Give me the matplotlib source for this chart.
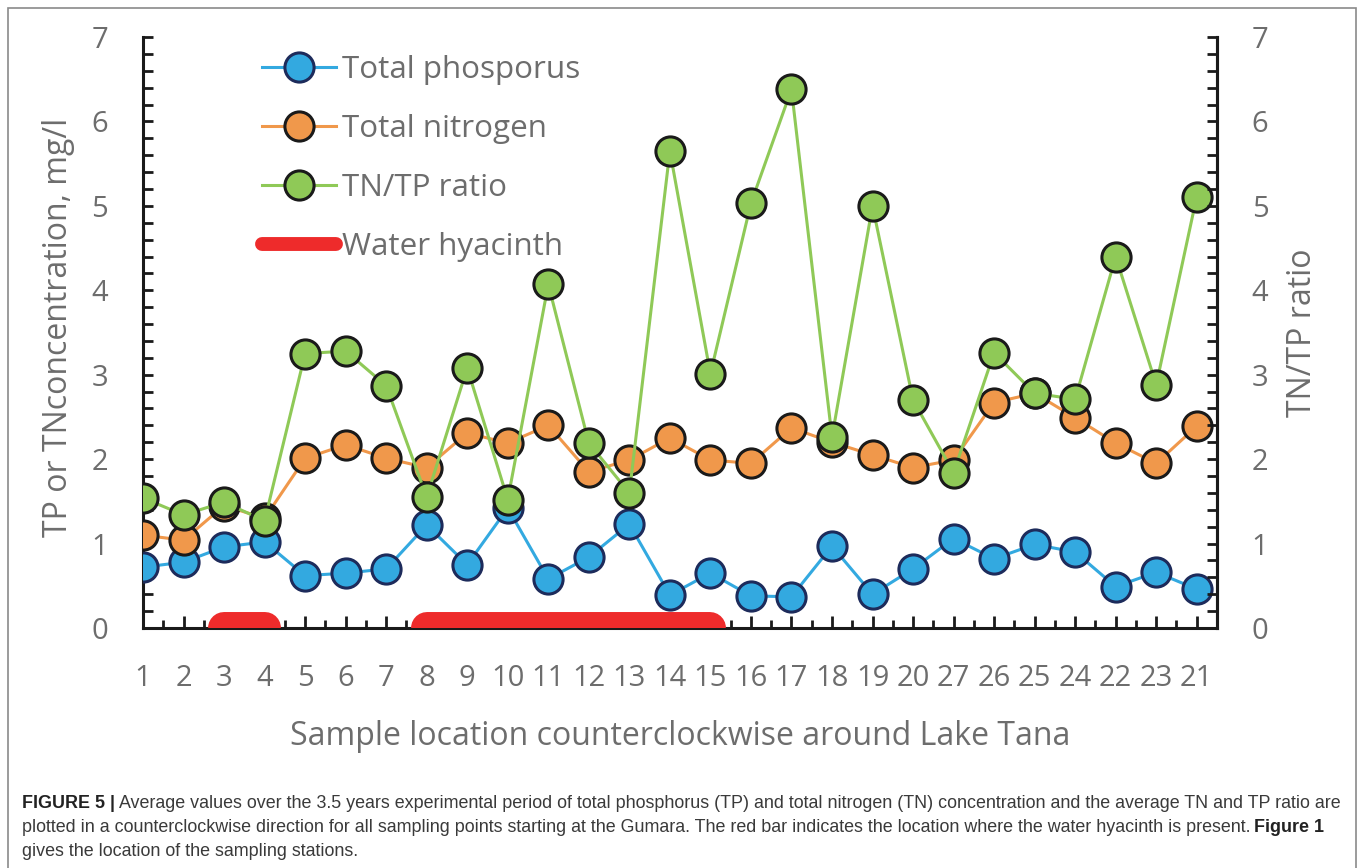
import matplotlib.pyplot as plt
from matplotlib.lines import Line2D
from matplotlib.patches import Rectangle
from matplotlib.ticker import MultipleLocator

# sample locations, counterclockwise around Lake Tana
stations = ["1", "2", "3", "4", "5", "6", "7", "8", "9", "10", "11", "12", "13", "14",
            "15", "16", "17", "18", "19", "20", "27", "26", "25", "24", "22", "23", "21"]

tp = [0.72, 0.78, 0.96, 1.02, 0.62, 0.65, 0.70, 1.22, 0.75, 1.42, 0.58, 0.84, 1.23, 0.39,
      0.65, 0.38, 0.37, 0.97, 0.40, 0.70, 1.06, 0.82, 0.99, 0.90, 0.49, 0.66, 0.46]

tn = [1.10, 1.04, 1.45, 1.30, 2.01, 2.17, 2.01, 1.90, 2.31, 2.19, 2.40, 1.85, 1.99, 2.25,
      1.99, 1.95, 2.37, 2.20, 2.05, 1.90, 1.99, 2.67, 2.78, 2.49, 2.19, 1.95, 2.39]

ratio = [1.54, 1.34, 1.49, 1.27, 3.25, 3.28, 2.87, 1.55, 3.08, 1.52, 4.07, 2.19, 1.60, 5.65,
         3.01, 5.03, 6.38, 2.26, 5.00, 2.70, 1.84, 3.26, 2.78, 2.71, 4.40, 2.88, 5.11]

# stretches of shore where water hyacinth is present (first, last station)
hyacinth = [("3", "4"), ("8", "15")]

TXT = "#6d6d6d"
INK = "#1a1a1a"
BLUE = "#33a9e0"
ORANGE = "#f0984b"
GREEN = "#8fc957"
RED = "#ee2b2b"

plt.rcParams["font.family"] = ["Open Sans", "DejaVu Sans"]

fig = plt.figure(figsize=(13.6, 8.68), dpi=100)
ax = fig.add_axes([0.10515, 0.2765, 0.78971, 0.68088])
ax2 = ax.twinx()

x = list(range(len(stations)))
mk = dict(marker="o", markersize=21, markeredgewidth=2.2, linewidth=2.2)

ax.plot(x, tp, color=BLUE, markerfacecolor=BLUE, markeredgecolor="#1d2b5b", zorder=3, **mk)
ax.plot(x, tn, color=ORANGE, markerfacecolor=ORANGE, markeredgecolor=INK, zorder=4, **mk)
ax.plot(x, ratio, color=GREEN, markerfacecolor=GREEN, markeredgecolor=INK, zorder=5, **mk)

for a, b in hyacinth:
    i0, i1 = stations.index(a), stations.index(b)
    ax2.plot([i0, i1], [0, 0], color=RED, linewidth=23, solid_capstyle="round",
             zorder=3, clip_on=True)

for a in (ax, ax2):
    a.set_xlim(0, 26.5)
    a.set_ylim(0, 7)
    a.yaxis.set_major_locator(MultipleLocator(1))
    a.yaxis.set_minor_locator(MultipleLocator(0.2))
    a.tick_params(axis="y", which="both", direction="in", length=7.5, width=2,
                  color=INK, labelsize=21, labelcolor=TXT, pad=25)
    for s in a.spines.values():
        s.set_linewidth(2.2)
        s.set_color(INK)

for s in ("top", "bottom", "left"):
    ax2.spines[s].set_visible(False)
ax.spines["top"].set_visible(False)

ax.set_xticks(x)
ax.set_xticklabels(stations)
ax.set_xticks([i + 0.5 for i in x[:-1]], minor=True)
ax.tick_params(axis="x", which="major", direction="in", length=8.5, width=2,
               color=INK, labelsize=21, labelcolor=TXT, pad=26)
ax.tick_params(axis="x", which="minor", direction="in", length=5.5, width=2, color=INK)

ax.set_xlabel("Sample location counterclockwise around Lake Tana", fontsize=23, color=TXT)
ax.xaxis.set_label_coords(0.5, -0.155)
ax.set_ylabel("TP or TNconcentration, mg/l", fontsize=23, color=TXT, va="center")
ax.yaxis.set_label_coords(-0.079, 0.509)
ax2.set_ylabel("TN/TP ratio", fontsize=23, color=TXT, va="center", rotation=90)
ax2.yaxis.set_label_coords(1.080, 0.499)

handles = [
    Line2D([], [], color=BLUE, markerfacecolor=BLUE, markeredgecolor="#1d2b5b", **mk),
    Line2D([], [], color=ORANGE, markerfacecolor=ORANGE, markeredgecolor=INK, **mk),
    Line2D([], [], color=GREEN, markerfacecolor=GREEN, markeredgecolor=INK, **mk),
    Line2D([], [], color=RED, linewidth=10, solid_capstyle="round"),
]
labels = ["Total phosporus", "Total nitrogen", "TN/TP ratio", "Water hyacinth"]
leg = ax2.legend(handles, labels, loc="upper left", bbox_to_anchor=(0.1108, 0.969),
                 frameon=False, fontsize=22.6, handlelength=2.35, handletextpad=0.2,
                 labelspacing=0.92, borderpad=0, borderaxespad=0)
for t in leg.get_texts():
    t.set_color(TXT)

# frame round the figure panel
fig.add_artist(Rectangle((8 / 1360, -0.02), 1348 / 1360, 1 - 8 / 868 + 0.02,
                         transform=fig.transFigure, fill=False,
                         edgecolor="#8a8a8a", linewidth=1.2))

# caption
cap = dict(fontsize=12.9, family=["Liberation Sans Narrow", "Liberation Sans"], va="center")
r = fig.canvas.get_renderer()
x0 = 22 / 1360
t1 = fig.text(x0, 1 - 804 / 868, "FIGURE 5 |", weight="bold", color="#222222", **cap)
w1 = t1.get_window_extent(r).width / 1360
fig.text(x0 + w1 + 4 / 1360, 1 - 804 / 868,
         "Average values over the 3.5 years experimental period of total phosphorus (TP) "
         "and total nitrogen (TN) concentration and the average TN and TP ratio are",
         color="#3a3a3a", **cap)
t2 = fig.text(x0, 1 - 828 / 868,
              "plotted in a counterclockwise direction for all sampling points starting at "
              "the Gumara. The red bar indicates the location where the water hyacinth is present.",
              color="#3a3a3a", **cap)
w2 = t2.get_window_extent(r).width / 1360
fig.text(x0 + w2 + 4 / 1360, 1 - 828 / 868, "Figure 1", weight="bold", color="#222222", **cap)
fig.text(x0, 1 - 851 / 868, "gives the location of the sampling stations.",
         color="#3a3a3a", **cap)

fig.savefig("out.png", dpi=100)
